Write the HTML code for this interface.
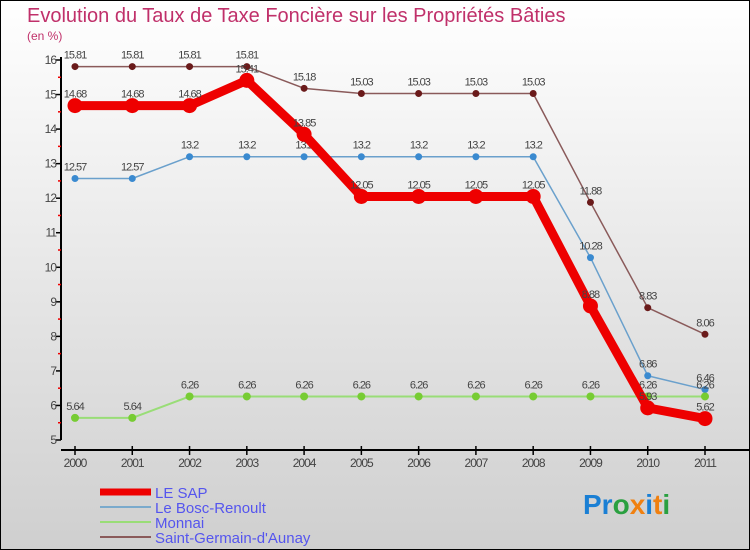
<!DOCTYPE html>
<html><head><meta charset="utf-8"><style>
body{margin:0;}
#wrap{width:750px;height:550px;position:relative;overflow:hidden;font-family:"Liberation Sans",sans-serif;}
svg{display:block}
</style></head><body>
<div id="wrap">
<svg id="chart" width="750" height="550" xmlns="http://www.w3.org/2000/svg">
<defs><linearGradient id="bg" x1="0" y1="0" x2="0" y2="1"><stop offset="0" stop-color="#ffffff"/><stop offset="1" stop-color="#cfcfcf"/></linearGradient></defs>
<rect x="0.5" y="0.5" width="749" height="549" fill="url(#bg)" stroke="#000"/>
<text x="27" y="22" font-size="20" fill="#c0306a">Evolution du Taux de Taxe Foncière sur les Propriétés Bâties</text>
<text x="27" y="40" font-size="12" fill="#c0306a">(en %)</text>
<g id="axes"></g>
<g id="series"></g>
<g id="legend"></g>
<text x="583" y="514" font-size="28" font-weight="bold"><tspan fill="#1a7fd4">Pr</tspan><tspan fill="#2aa040">o</tspan><tspan fill="#f08010">x</tspan><tspan fill="#1a7fd4">i</tspan><tspan fill="#f08010">t</tspan><tspan fill="#2aa040">i</tspan></text>
</svg>
</div>
<script>
const years=["2000","2001","2002","2003","2004","2005","2006","2007","2008","2009","2010","2011"];
const yTicks=[5,6,7,8,9,10,11,12,13,14,15,16];
const leSap=[14.68,14.68,14.68,15.41,13.85,12.05,12.05,12.05,12.05,8.88,5.93,5.62];
const boscRenoult=[12.57,12.57,13.2,13.2,13.2,13.2,13.2,13.2,13.2,10.28,6.86,6.46];
const monnai=[5.64,5.64,6.26,6.26,6.26,6.26,6.26,6.26,6.26,6.26,6.26,6.26];
const saintGermain=[15.81,15.81,15.81,15.81,15.18,15.03,15.03,15.03,15.03,11.88,8.83,8.06];
const seriesNames=["LE SAP","Le Bosc-Renoult","Monnai","Saint-Germain-d'Aunay"];

const NS="http://www.w3.org/2000/svg";
const xS=i=>75+i*(630/11);
const yS=v=>440-(v-5)*(380/11);
function mk(tag,attrs,parent){const e=document.createElementNS(NS,tag);for(const k in attrs)e.setAttribute(k,attrs[k]);parent.appendChild(e);return e;}
const axes=document.getElementById('axes');
let l=mk('line',{x1:61,y1:yS(16)-3,x2:61,y2:yS(5),stroke:'#000','stroke-width':2},axes);


l=mk('line',{x1:61,y1:450,x2:750,y2:450,stroke:'#000','stroke-width':2},axes);


yTicks.forEach((v,i)=>{
  mk('line',{x1:56,y1:yS(v),x2:61,y2:yS(v),stroke:'#000','stroke-width':1.5},axes);
  if(i<yTicks.length-1) mk('line',{x1:58,y1:yS(v+0.5),x2:61,y2:yS(v+0.5),stroke:'#e00','stroke-width':1.5},axes);
  const t=mk('text',{x:56,y:yS(v)+4,'font-size':12,fill:'#444','text-anchor':'end','letter-spacing':'-1'},axes);
  t.textContent=v;
  
  
});
years.forEach((y,i)=>{
  mk('line',{x1:xS(i),y1:446,x2:xS(i),y2:455,stroke:'#000','stroke-width':1.5},axes);
  const t=mk('text',{x:xS(i),y:467,'font-size':12,fill:'#444','text-anchor':'middle','letter-spacing':'-1'},axes);
  t.textContent=y;
  
  
});
const ser=document.getElementById('series');
const cfg=[
 {d:saintGermain,c:'#8a5a5a',w:1.5,r:3.5,f:'#6a1a1a',n:'saint-germain'},
 {d:boscRenoult,c:'#6aa0cc',w:1.5,r:3.5,f:'#3a8ad0',n:'bosc-renoult'},
 {d:monnai,c:'#99dd77',w:2,r:4,f:'#77cc33',n:'monnai'},
 {d:leSap,c:'#ee0000',w:9,r:7.5,f:'#ee0000',n:'le-sap'}];
cfg.forEach(s=>{
  const g=mk('g',{},ser);
  
  
  const p=mk('polyline',{points:s.d.map((v,i)=>xS(i)+','+yS(v)).join(' '),fill:'none',stroke:s.c,'stroke-width':s.w,'stroke-linejoin':'round'},g);
  
  
  s.d.forEach((v,i)=>{
    const c=mk('circle',{cx:xS(i),cy:yS(v),r:s.r,fill:s.f},g);
    
    
    const t=mk('text',{x:xS(i),y:yS(v)-8,'font-size':11,fill:'#444','text-anchor':'middle','letter-spacing':'-1'},g);
    t.textContent=String(v);
    
    
  });
});
const leg=document.getElementById('legend');
const lc=[['#ee0000',7],['#7aaacc',2],['#99dd77',2],['#8a5a5a',2]];
seriesNames.forEach((n,i)=>{
  const y=492+i*15;
  const g=mk('g',{},leg);
  
  
  mk('line',{x1:100,y1:y,x2:151,y2:y,stroke:lc[i][0],'stroke-width':lc[i][1]},g);
  const t=mk('text',{x:155,y:y+6,'font-size':15,fill:'#5555ee'},g);
  t.textContent=n;
});
</script>
</body></html>
